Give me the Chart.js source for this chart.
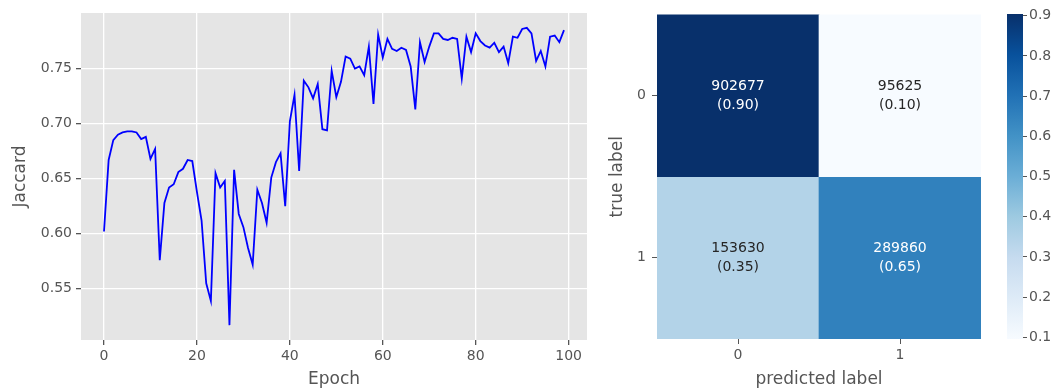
<!DOCTYPE html>
<html>
<head>
<meta charset="utf-8">
<script src="https://cdn.jsdelivr.net/npm/chart.js@4/dist/chart.umd.min.js"></script>
<style>
  html, body { margin: 0; padding: 0; background: #ffffff; }
  #wrap { position: relative; width: 1057px; height: 392px; }
  canvas { position: absolute; top: 0; }
</style>
</head>
<body>
<div id="wrap">
  <canvas id="lineChart" width="600" height="392" style="left:0px"></canvas>
  <canvas id="cmChart" width="400" height="392" style="left:600px"></canvas>
  <canvas id="cbChart" width="57" height="392" style="left:1000px"></canvas>
</div>
<script>
// ---- training curve ----
const epochs = [
  0, 1, 2, 3, 4, 5, 6, 7, 8, 9,
  10, 11, 12, 13, 14, 15, 16, 17, 18, 19,
  20, 21, 22, 23, 24, 25, 26, 27, 28, 29,
  30, 31, 32, 33, 34, 35, 36, 37, 38, 39,
  40, 41, 42, 43, 44, 45, 46, 47, 48, 49,
  50, 51, 52, 53, 54, 55, 56, 57, 58, 59,
  60, 61, 62, 63, 64, 65, 66, 67, 68, 69,
  70, 71, 72, 73, 74, 75, 76, 77, 78, 79,
  80, 81, 82, 83, 84, 85, 86, 87, 88, 89,
  90, 91, 92, 93, 94, 95, 96, 97, 98, 99
];
const jaccard = [
  0.602, 0.667, 0.685, 0.690, 0.692, 0.693, 0.693, 0.692, 0.686, 0.688,
  0.668, 0.677, 0.576, 0.628, 0.642, 0.645, 0.656, 0.659, 0.667, 0.666,
  0.638, 0.612, 0.555, 0.539, 0.655, 0.642, 0.648, 0.517, 0.658, 0.618,
  0.606, 0.587, 0.572, 0.640, 0.628, 0.610, 0.651, 0.665, 0.673, 0.625,
  0.702, 0.726, 0.657, 0.739, 0.733, 0.723, 0.736, 0.695, 0.694, 0.748,
  0.724, 0.738, 0.761, 0.759, 0.750, 0.752, 0.744, 0.770, 0.718, 0.781,
  0.760, 0.777, 0.768, 0.766, 0.769, 0.767, 0.752, 0.713, 0.774, 0.756,
  0.770, 0.782, 0.782, 0.777, 0.776, 0.778, 0.777, 0.741, 0.779, 0.765,
  0.782, 0.775, 0.771, 0.769, 0.7735, 0.765, 0.770, 0.755, 0.779, 0.778,
  0.786, 0.787, 0.782, 0.757, 0.766, 0.752, 0.779, 0.780, 0.774, 0.785
];
const epochTicks = [0, 20, 40, 60, 80, 100];
const jaccardTicks = [0.55, 0.60, 0.65, 0.70, 0.75];

// ---- confusion matrix ----
const trueLabels = ['0', '1'];
const predictedLabels = ['0', '1'];
const counts = [
  [902677, 95625],
  [153630, 289860]
];
const colorbarTicks = [0.1, 0.2, 0.3, 0.4, 0.5, 0.6, 0.7, 0.8, 0.9];

// Blues colour map stops
const bluesStops = ['#f7fbff', '#deebf7', '#c6dbef', '#9ecae1', '#6baed6', '#4292c6', '#2171b5', '#08519c', '#08306b'];

const FONT = 'DejaVu Sans';
const TXT = '#555555';

function hexToRgb(h) {
  return [parseInt(h.slice(1, 3), 16), parseInt(h.slice(3, 5), 16), parseInt(h.slice(5, 7), 16)];
}
function blues(t) {
  t = Math.max(0, Math.min(1, t));
  const p = t * (bluesStops.length - 1);
  const i = Math.min(Math.floor(p), bluesStops.length - 2);
  const f = p - i;
  const a = hexToRgb(bluesStops[i]), b = hexToRgb(bluesStops[i + 1]);
  const c = a.map((v, k) => Math.round(v + (b[k] - v) * f));
  return 'rgb(' + c.join(',') + ')';
}
function luminance(rgbStr) {
  const c = rgbStr.match(/\d+/g).map(Number).map(v => {
    v /= 255;
    return v <= 0.03928 ? v / 12.92 : Math.pow((v + 0.055) / 1.055, 2.4);
  });
  return 0.2126 * c[0] + 0.7152 * c[1] + 0.0722 * c[2];
}

// panel background behind the plotting area
const panelBg = {
  id: 'panelBg',
  beforeDraw(chart, args, opts) {
    const { ctx, chartArea: a } = chart;
    ctx.save();
    ctx.fillStyle = opts.color;
    ctx.fillRect(a.left, a.top, a.right - a.left, a.bottom - a.top);
    ctx.restore();
  }
};

const yMinData = Math.min(...jaccard), yMaxData = Math.max(...jaccard);
const yPad = (yMaxData - yMinData) * 0.05;
const xPad = (epochs[epochs.length - 1] - epochs[0]) * 0.05;

new Chart(document.getElementById('lineChart'), {
  type: 'line',
  data: {
    datasets: [{
      data: epochs.map((e, i) => ({ x: e, y: jaccard[i] })),
      borderColor: '#0000ff',
      borderWidth: 1.8,
      pointRadius: 0,
      tension: 0,
      fill: false
    }]
  },
  options: {
    responsive: false,
    animation: false,
    devicePixelRatio: 1,
    layout: { padding: { left: 0, top: 13, right: 13, bottom: 0 } },
    plugins: {
      legend: { display: false },
      tooltip: { enabled: false },
      panelBg: { color: '#e5e5e5' }
    },
    scales: {
      x: {
        type: 'linear',
        min: epochs[0] - xPad,
        max: epochs[epochs.length - 1] + xPad,
        afterBuildTicks: s => { s.ticks = epochTicks.map(v => ({ value: v })); },
        afterFit: s => { s.height = 52; },
        grid: { color: '#ffffff', lineWidth: 1.3, tickColor: TXT, tickLength: 5, drawTicks: true },
        border: { display: false },
        ticks: { color: TXT, font: { family: FONT, size: 14 }, padding: 3, maxRotation: 0, callback: v => String(v) },
        title: { display: true, text: 'Epoch', color: TXT, font: { family: FONT, size: 17 }, padding: { top: 0, bottom: 2 } }
      },
      y: {
        type: 'linear',
        min: yMinData - yPad,
        max: yMaxData + yPad,
        afterBuildTicks: s => { s.ticks = jaccardTicks.map(v => ({ value: v })); },
        afterFit: s => { s.width = 81; },
        grid: { color: '#ffffff', lineWidth: 1.3, tickColor: TXT, tickLength: 5, drawTicks: true },
        border: { display: false },
        ticks: { color: TXT, font: { family: FONT, size: 14 }, padding: 4, callback: v => v.toFixed(2) },
        title: { display: true, text: 'Jaccard', color: TXT, font: { family: FONT, size: 17 }, padding: { top: 10, bottom: 0 } }
      }
    }
  },
  plugins: [panelBg]
});

// row-normalised fractions
const rowFrac = counts.map(r => { const s = r.reduce((a, b) => a + b, 0); return r.map(v => v / s); });
const allFrac = rowFrac.flat();
const vmin = Math.min(...allFrac), vmax = Math.max(...allFrac);
const cellColor = rowFrac.map(r => r.map(f => blues((f - vmin) / (vmax - vmin))));

// cell annotations: count and fraction
const cellText = {
  id: 'cellText',
  afterDatasetsDraw(chart) {
    const ctx = chart.ctx;
    ctx.save();
    ctx.font = '14px "' + FONT + '"';
    ctx.textAlign = 'center';
    ctx.textBaseline = 'middle';
    chart.data.datasets.forEach((ds, r) => {
      chart.getDatasetMeta(r).data.forEach((el, c) => {
        const cy = (el.y + el.base) / 2;
        ctx.fillStyle = luminance(cellColor[r][c]) > 0.408 ? '#262626' : '#ffffff';
        ctx.fillText(String(counts[r][c]), el.x, cy - 9.5);
        ctx.fillText('(' + rowFrac[r][c].toFixed(2) + ')', el.x, cy + 9.5);
      });
    });
    ctx.restore();
  }
};

new Chart(document.getElementById('cmChart'), {
  type: 'bar',
  data: {
    labels: predictedLabels,
    datasets: trueLabels.map((t, r) => ({
      label: t,
      data: predictedLabels.map(() => [r, r + 1]),
      backgroundColor: cellColor[r],
      borderWidth: 0,
      grouped: false,
      barPercentage: 1,
      categoryPercentage: 1
    }))
  },
  options: {
    responsive: false,
    animation: false,
    devicePixelRatio: 1,
    layout: { padding: { left: 0, top: 14, right: 19, bottom: 0 } },
    plugins: { legend: { display: false }, tooltip: { enabled: false } },
    scales: {
      x: {
        type: 'category',
        afterFit: s => { s.height = 53; },
        grid: { offset: false, drawOnChartArea: false, tickColor: TXT, tickLength: 5 },
        border: { display: false },
        ticks: { color: TXT, font: { family: FONT, size: 14 }, padding: 3, maxRotation: 0 },
        title: { display: true, text: 'predicted label', color: TXT, font: { family: FONT, size: 17 }, padding: { top: 0, bottom: 2 } }
      },
      y: {
        type: 'linear',
        min: 0,
        max: trueLabels.length,
        reverse: true,
        afterBuildTicks: s => { s.ticks = trueLabels.map((t, i) => ({ value: i + 0.5 })); },
        afterFit: s => { s.width = 57; },
        grid: { drawOnChartArea: false, tickColor: TXT, tickLength: 5 },
        border: { display: false },
        ticks: { color: TXT, font: { family: FONT, size: 14 }, padding: 6, callback: (v, i) => trueLabels[i] },
        title: { display: true, text: 'true label', color: TXT, font: { family: FONT, size: 17 }, padding: { top: 7, bottom: 0 } }
      }
    }
  },
  plugins: [cellText]
});

// colour bar
new Chart(document.getElementById('cbChart'), {
  type: 'bar',
  data: {
    labels: [''],
    datasets: [{
      data: [[vmin, vmax]],
      backgroundColor: (c) => {
        const a = c.chart.chartArea;
        if (!a) return bluesStops[4];
        const g = c.chart.ctx.createLinearGradient(0, a.bottom, 0, a.top);
        bluesStops.forEach((col, i) => g.addColorStop(i / (bluesStops.length - 1), col));
        return g;
      },
      borderWidth: 0,
      barPercentage: 1,
      categoryPercentage: 1
    }]
  },
  options: {
    responsive: false,
    animation: false,
    devicePixelRatio: 1,
    layout: { padding: { left: 7, top: 14, right: 0, bottom: 53 } },
    plugins: { legend: { display: false }, tooltip: { enabled: false } },
    scales: {
      x: { display: false },
      y: {
        position: 'right',
        type: 'linear',
        min: vmin,
        max: vmax,
        afterBuildTicks: s => { s.ticks = colorbarTicks.map(v => ({ value: v })); },
        afterFit: s => { s.width = 34; },
        grid: { drawOnChartArea: false, tickColor: TXT, tickLength: 4 },
        border: { display: false },
        ticks: { color: TXT, font: { family: FONT, size: 14 }, padding: 2, callback: v => v.toFixed(1) }
      }
    }
  }
});
</script>
</body>
</html>
